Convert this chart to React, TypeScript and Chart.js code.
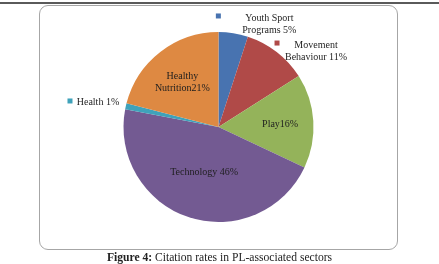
import React, { useEffect, useRef } from "react";
import { Chart, registerables } from "chart.js";

Chart.register(...registerables);

// Sectors, clockwise from 12 o'clock
const sectors = [
  "Youth Sport Programs",
  "Movement Behaviour",
  "Play",
  "Technology",
  "Health",
  "Healthy Nutrition",
];
const shares = [5, 11, 16, 46, 1, 21];
const sliceColors = ["#4873B0", "#B04A48", "#94B35A", "#735A92", "#3FA2BA", "#DE8942"];

// Label lines per sector (as printed next to / inside each slice)
const labelLines = [
  ["Youth Sport", "Programs 5%"],
  ["Movement", "Behaviour 11%"],
  ["Play16%"],
  ["Technology 46%"],
  ["Health 1%"],
  ["Healthy", "Nutrition21%"],
];

// Label placement: inside labels sit on the bisector at a fraction of the radius;
// outside labels are offset from the arc's rim point, with a colour key square.
type Placement =
  | { inside: true; r: number }
  | { inside: false; text: [number, number]; key: [number, number] };
const placements: Placement[] = [
  { inside: false, text: [36, -10.5], key: [-15, -17.2] },
  { inside: false, text: [39.3, -2.4], key: [0.3, -8.9] },
  { inside: true, r: 0.65 },
  { inside: true, r: 0.49 },
  { inside: false, text: [-27.8, -5.3], key: [-55.8, -5.3] },
  { inside: true, r: 0.62 },
];

const FONT = "10px 'Liberation Serif', 'Times New Roman', serif";
const LINE_H = 12;
const BASE_NUDGE = 1.5;

const sliceLabels = {
  id: "sliceLabels",
  afterDatasetsDraw(chart: any) {
    const ctx = chart.ctx as CanvasRenderingContext2D;
    const meta = chart.getDatasetMeta(0);
    ctx.save();
    ctx.font = FONT;
    ctx.textBaseline = "middle";
    ctx.textAlign = "center";
    meta.data.forEach((arc: any, i: number) => {
      const { x, y, outerRadius, startAngle, endAngle } = arc.getProps(
        ["x", "y", "outerRadius", "startAngle", "endAngle"],
        true
      );
      const mid = (startAngle + endAngle) / 2;
      const lines = labelLines[i];
      const p = placements[i];
      let cx: number;
      let cy: number;
      if (p.inside) {
        cx = x + Math.cos(mid) * outerRadius * p.r;
        cy = y + Math.sin(mid) * outerRadius * p.r;
      } else {
        const ax = x + Math.cos(mid) * outerRadius;
        const ay = y + Math.sin(mid) * outerRadius;
        cx = ax + p.text[0];
        cy = ay + p.text[1];
        ctx.fillStyle = sliceColors[i];
        ctx.fillRect(ax + p.key[0] - 2.5, ay + p.key[1] - 2.5, 5, 5);
      }
      ctx.fillStyle = "#1e1e1e";
      lines.forEach((t, k) => {
        ctx.fillText(t, cx, cy + BASE_NUDGE + (k - (lines.length - 1) / 2) * LINE_H);
      });
    });
    ctx.restore();
  },
};

export default function App() {
  const canvasRef = useRef<HTMLCanvasElement>(null);

  useEffect(() => {
    document.body.style.margin = "0";
    const chart = new Chart(canvasRef.current!, {
      type: "pie",
      data: {
        labels: sectors,
        datasets: [
          {
            data: shares,
            backgroundColor: sliceColors,
            borderWidth: 0,
          },
        ],
      },
      options: {
        animation: false,
        responsive: false,
        layout: { padding: { top: 32, bottom: 42, left: 123.5, right: 125.5 } },
        plugins: {
          legend: { display: false },
          tooltip: { enabled: false },
        },
      },
      plugins: [sliceLabels],
    });
    return () => chart.destroy();
  }, []);

  return (
    <div style={{ position: "relative", width: 439, height: 264, background: "#fff", overflow: "hidden" }}>
      <div style={{ position: "absolute", left: 0, top: 2, width: 439, height: 2, background: "#5a5a5a" }} />
      <div
        style={{
          position: "absolute",
          left: 39,
          top: 5,
          width: 357,
          height: 243,
          border: "1px solid #a6a6a6",
          borderRadius: 9,
        }}
      />
      <canvas ref={canvasRef} width={439} height={264} style={{ position: "absolute", left: 0, top: 0 }} />
      <div
        style={{
          position: "absolute",
          left: 0,
          top: 251,
          width: 439,
          textAlign: "center",
          font: "11.6px 'Liberation Serif', 'Times New Roman', serif",
          color: "#222",
          lineHeight: "14px",
        }}
      >
        <b>Figure 4:</b> Citation rates in PL-associated sectors
      </div>
    </div>
  );
}
